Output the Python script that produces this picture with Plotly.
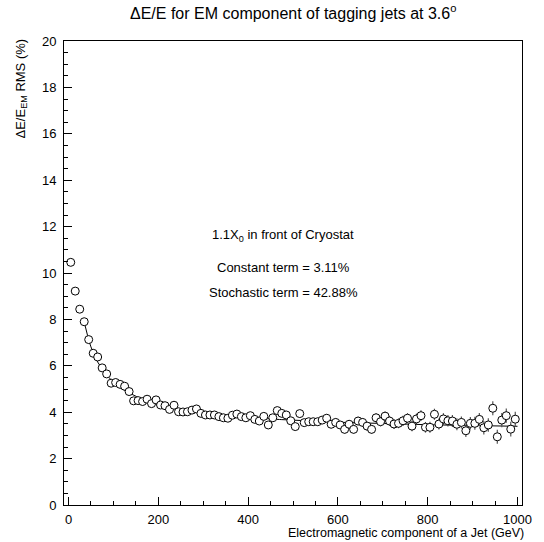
import plotly.graph_objects as go

# Bin centres (GeV)
energy = [5 + 10 * k for k in range(100)]

# Relative resolution (%)
resolution = [
    10.46, 9.22, 8.44, 7.90, 7.13, 6.54, 6.38, 5.91, 5.65, 5.25,
    5.28, 5.20, 5.12, 4.89, 4.49, 4.50, 4.46, 4.56, 4.37, 4.53,
    4.31, 4.28, 4.12, 4.30, 4.02, 4.01, 4.02, 4.09, 4.14, 3.95,
    3.88, 3.88, 3.88, 3.81, 3.76, 3.74, 3.87, 3.92, 3.81, 3.76,
    3.85, 3.69, 3.62, 3.82, 3.45, 3.76, 4.07, 3.95, 3.88, 3.63,
    3.38, 3.94, 3.55, 3.59, 3.59, 3.59, 3.66, 3.74, 3.48, 3.56,
    3.45, 3.26, 3.48, 3.26, 3.62, 3.56, 3.40, 3.26, 3.76, 3.59,
    3.83, 3.62, 3.49, 3.52, 3.63, 3.74, 3.40, 3.71, 3.85, 3.35,
    3.35, 3.91, 3.49, 3.71, 3.63, 3.62, 3.48, 3.56, 3.20, 3.52,
    3.52, 3.69, 3.33, 3.45, 4.17, 2.94, 3.66, 3.85, 3.27, 3.70,
]

# Error bars (%)
errors = [
    0.03, 0.03, 0.03, 0.03, 0.04, 0.04, 0.04, 0.04, 0.05, 0.05,
    0.05, 0.05, 0.05, 0.06, 0.06, 0.06, 0.06, 0.07, 0.07, 0.07,
    0.07, 0.08, 0.08, 0.08, 0.08, 0.09, 0.09, 0.09, 0.09, 0.10,
    0.10, 0.10, 0.10, 0.11, 0.11, 0.11, 0.11, 0.12, 0.12, 0.12,
    0.12, 0.13, 0.13, 0.13, 0.13, 0.14, 0.14, 0.14, 0.14, 0.15,
    0.15, 0.15, 0.15, 0.16, 0.16, 0.16, 0.16, 0.17, 0.17, 0.17,
    0.17, 0.18, 0.18, 0.18, 0.18, 0.19, 0.19, 0.19, 0.20, 0.20,
    0.20, 0.21, 0.21, 0.21, 0.22, 0.22, 0.22, 0.23, 0.23, 0.23,
    0.24, 0.24, 0.24, 0.25, 0.25, 0.26, 0.26, 0.26, 0.27, 0.27,
    0.28, 0.28, 0.29, 0.29, 0.30, 0.30, 0.31, 0.31, 0.32, 0.32,
]

# Fit parameters shown on the chart
constant_term = 3.11
stochastic_term = 42.88
fit_start = 35
fit_energy = list(range(fit_start, 1001, 5))
fit_curve = [(stochastic_term ** 2 / e + constant_term ** 2) ** 0.5 for e in fit_energy]

title_text = "ΔE/E for EM component of tagging jets at 3.6<sup>o</sup>"
ytitle = "ΔE/E<sub>EM</sub> RMS (%)"
xtitle = "Electromagnetic component of a Jet (GeV)"
notes = [
    "1.1X<sub>0</sub> in front of Cryostat",
    "Constant term = %.2f%%" % constant_term,
    "Stochastic term = %.2f%%" % stochastic_term,
]

FONT = "Liberation Sans"

fig = go.Figure()
fig.add_trace(go.Scatter(
    x=fit_energy, y=fit_curve, mode="lines",
    line=dict(color="black", width=1), hoverinfo="skip", showlegend=False,
))
fig.add_trace(go.Scatter(
    x=energy, y=resolution, mode="markers",
    marker=dict(symbol="circle", size=8, color="white",
                line=dict(color="black", width=1)),
    error_y=dict(type="data", array=errors, visible=True,
                 color="#555555", thickness=1.2, width=0),
    showlegend=False,
))

ml, mr, mt, mb = 64, 15, 41, 37
fig.update_layout(
    width=544, height=542,
    margin=dict(l=ml, r=mr, t=mt, b=mb),
    paper_bgcolor="white", plot_bgcolor="white",
    font=dict(family=FONT, size=13, color="black"),
    showlegend=False,
)
fig.update_xaxes(
    range=[-10, 1010], showgrid=False, zeroline=False,
    showline=True, linecolor="black", linewidth=1, mirror=True,
    ticks="inside", ticklen=8, tickwidth=1, tickcolor="black",
    tick0=0, dtick=200,
    minor=dict(ticks="inside", ticklen=4, dtick=50, tick0=0, tickcolor="black"),
    tickfont=dict(size=13),
    ticklabelstandoff=2,
)
fig.update_yaxes(
    range=[0, 20], showgrid=False, zeroline=False,
    showline=True, linecolor="black", linewidth=1, mirror=True,
    ticks="inside", ticklen=8, tickwidth=1, tickcolor="black",
    tick0=0, dtick=2,
    minor=dict(ticks="inside", ticklen=4, dtick=0.5, tick0=0, tickcolor="black"),
    tickfont=dict(size=13),
    ticklabelstandoff=4,
)

fig.add_annotation(text=title_text, xref="paper", yref="paper",
                   x=0.5, y=1, yshift=17, yanchor="bottom", showarrow=False,
                   font=dict(size=16))
fig.add_annotation(text=ytitle, xref="paper", yref="paper",
                   x=0, y=1, xshift=-33, yshift=4, textangle=-90,
                   xanchor="right", yanchor="top", showarrow=False,
                   font=dict(size=13))
fig.add_annotation(text=xtitle, xref="paper", yref="paper",
                   x=1, y=0, xshift=4, yshift=-19, xanchor="right", yanchor="top",
                   showarrow=False, font=dict(size=12.5))
for txt, yv in zip(notes, [11.62, 10.22, 9.18]):
    fig.add_annotation(text=txt, xref="x", yref="y", x=478, y=yv,
                       showarrow=False, font=dict(size=13))

fig.write_html("out.html")
